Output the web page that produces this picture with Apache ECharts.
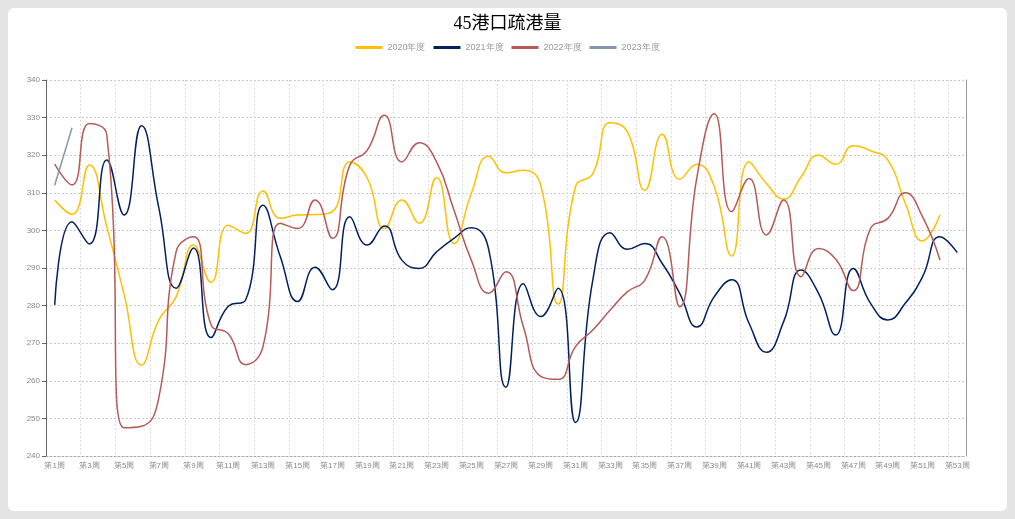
<!DOCTYPE html>
<html>
<head>
<meta charset="utf-8">
<script src="https://cdn.jsdelivr.net/npm/echarts@6/dist/echarts.min.js"></script>
<style>
    html, body { margin: 0; padding: 0; background: #e5e5e5; }
    #panel {
        position: absolute; left: 8px; top: 8px; width: 999px; height: 503px;
        background: #fff; border-radius: 6px;
    }
    #chart { width: 999px; height: 503px; }
</style>
</head>
<body>
<div id="panel"><div id="chart"></div></div>
<script>
'use strict';

var weeks = [];
for (var i = 1; i <= 53; i++) {
    weeks.push('第' + i + '周');
}

var legendNames = ['2020年度', '2021年度', '2022年度', '2023年度'];

var data2020 = [308.1, 304.3, 317.4, 301.0, 283.0, 264.2, 276.2, 282.4, 296.1, 286.2,
    301.4, 299.2, 310.5, 303.2, 304.1, 304.2, 305.0, 318.2, 314.0, 300.5,
    308.1, 301.9, 314.1, 296.5, 309.8, 319.7, 315.3, 316.0, 312.0, 280.4,
    311.6, 315.1, 328.6, 326.2, 310.7, 325.6, 313.6, 317.6, 311.6, 293.2,
    318.2, 312.5, 308.3, 314.2, 320.0, 317.6, 322.5, 321.2, 318.7, 307.2,
    297.2, 304.1, null];

var data2021 = [280.2, 302.3, 296.4, 318.7, 304.1, 327.8, 306.0, 284.6, 295.3, 271.5,
    279.8, 281.5, 306.7, 293.0, 281.1, 290.2, 284.2, 303.6, 296.1, 301.2,
    292.1, 289.9, 294.3, 297.9, 300.7, 295.0, 258.3, 285.8, 277.1, 284.6,
    248.9, 286.8, 299.4, 295.0, 296.5, 291.2, 283.3, 274.3, 282.4, 286.9,
    275.3, 267.6, 275.8, 289.5, 283.3, 272.2, 289.9, 280.6, 276.2, 280.6,
    287.7, 298.3, 294.1];

var data2022 = [317.6, 312.1, 328.4, 325.5, 247.5, 247.9, 255.5, 294.4, 298.3, 275.0,
    272.5, 264.3, 269.1, 301.9, 300.5, 308.1, 297.9, 317.3, 321.3, 330.6,
    318.2, 323.3, 318.2, 305.4, 292.1, 283.3, 289.0, 274.4, 261.2, 260.4,
    269.1, 273.5, 278.8, 283.7, 286.8, 298.3, 279.7, 314.2, 331.0, 305.0,
    313.8, 298.8, 308.1, 287.7, 295.2, 292.3, 284.0, 300.5, 303.2, 310.0,
    303.6, 292.1, null];

var data2023 = [312.0, 327.3];

var colors = ['#ffc000', '#002060', '#b65a58', '#8497b0'];

var chart = echarts.init(document.getElementById('chart'));

function lineSeries(name, values) {
    return {
        name: name,
        type: 'line',
        smooth: true,
        showSymbol: false,
        symbol: 'none',
        lineStyle: { width: 1.5 },
        data: values
    };
}

var option = {
    color: colors,
    animation: false,
    title: {
        text: '45港口疏港量',
        left: 'center',
        top: 2,
        textStyle: {
            fontFamily: 'Liberation Serif, Noto Sans CJK SC',
            fontSize: 18,
            fontWeight: 'normal',
            color: '#000'
        }
    },
    legend: {
        data: legendNames,
        top: 30,
        left: 'center',
        icon: 'rect',
        itemWidth: 27,
        itemHeight: 3,
        itemGap: 8,
        textStyle: { fontSize: 9, color: '#999' }
    },
    grid: {
        left: 38,
        right: 41,
        top: 72,
        bottom: 55
    },
    xAxis: {
        type: 'category',
        data: weeks,
        axisLine: { lineStyle: { color: '#aaa', type: [2, 2] } },
        axisTick: { interval: 1, lineStyle: { color: '#555' } },
        axisLabel: { interval: 1, fontSize: 8, color: '#888', margin: 6 },
        splitLine: { show: true, interval: 1, lineStyle: { color: '#ddd', type: [2, 2] } }
    },
    yAxis: [
        {
            type: 'value',
            min: 240,
            max: 340,
            interval: 10,
            axisLine: { show: true, lineStyle: { color: '#666' } },
            axisTick: { show: true, length: 4, lineStyle: { color: '#666' } },
            axisLabel: { fontSize: 8, color: '#888', margin: 6 },
            splitLine: { lineStyle: { color: '#ccc', type: [2, 2] } }
        },
        {
            type: 'value',
            position: 'right',
            min: 240,
            max: 340,
            axisLine: { show: true, lineStyle: { color: '#999' } },
            axisTick: { show: false },
            axisLabel: { show: false },
            splitLine: { show: false }
        }
    ],
    series: [
        lineSeries(legendNames[0], data2020),
        lineSeries(legendNames[1], data2021),
        lineSeries(legendNames[2], data2022),
        lineSeries(legendNames[3], data2023)
    ]
};

chart.setOption(option);
</script>
</body>
</html>
